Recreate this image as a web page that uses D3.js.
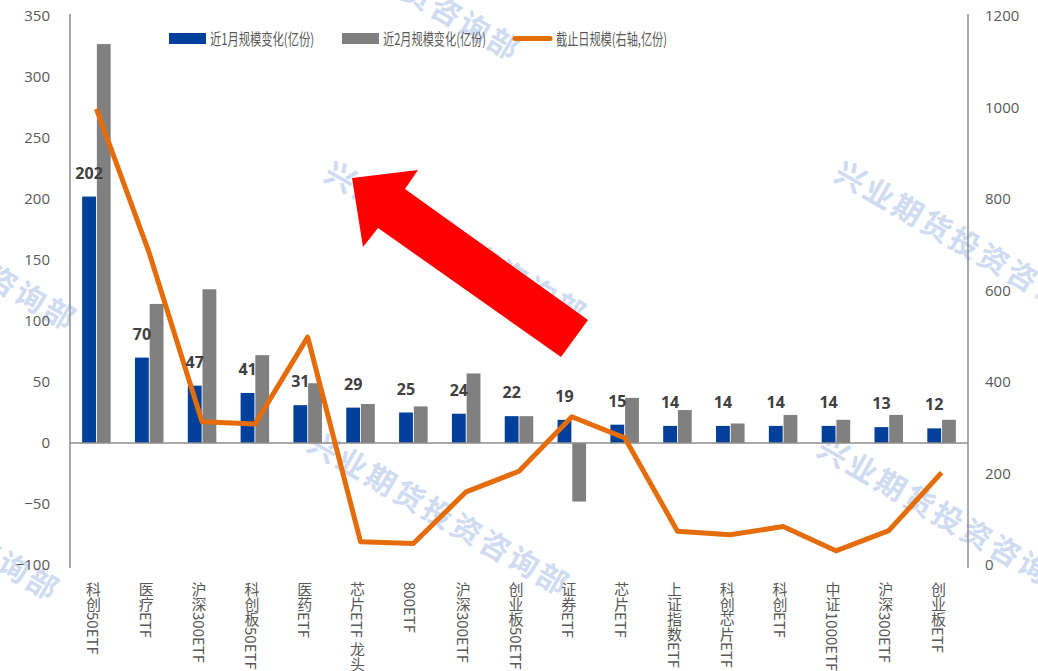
<!DOCTYPE html>
<html><head><meta charset="utf-8">
<script src="https://cdn.jsdelivr.net/npm/d3@7"></script>
<style>
html,body{margin:0;padding:0;background:#fff;}
svg{display:block;font-family:"Noto Sans CJK SC","Noto Sans",sans-serif;}
</style></head>
<body><svg id="c" width="1038" height="671"></svg>
<script>
const categories = ["科创50ETF","医疗ETF","沪深300ETF","科创板50ETF","医药ETF","芯片ETF 龙头","800ETF","沪深300ETF","创业板50ETF","证券ETF","芯片ETF","上证指数ETF","科创芯片ETF","科创ETF","中证1000ETF","沪深300ETF","创业板ETF"];
const change1m = [202,70,47,41,31,29,25,24,22,19,15,14,14,14,14,13,12];
const change2m = [327,114,126,72,49,32,30,57,22,-48,37,27,16,23,19,23,19];
const scaleRight = [997,682,313,308,498,51,47,160,205,324,278,74,66,84,31,75,202];
const leftTicks = [-100,-50,0,50,100,150,200,250,300,350];
const rightTicks = [0,200,400,600,800,1000,1200];
const legendNames = ["近1月规模变化(亿份)","近2月规模变化(亿份)","截止日规模(右轴,亿份)"];
const watermark = "兴业期货投资咨询部";

const BLUE="#00409A", GRAY="#808080", ORANGE="#E46C0A", AXIS="#8C8C8C", TXT="#595959";
const svg = d3.select("#c");
const L=70, R=968, T=16, B=565;
const idx = d3.range(categories.length);
const x = d3.scaleBand(idx,[L,R]).paddingInner(0.46).paddingOuter(0.23);
const xs = d3.scaleBand(["a","b"],[0,x.bandwidth()]).paddingInner(0.06);
const yL = d3.scaleLinear([-100,350],[B,T]);
const yR = d3.scaleLinear([0,1200],[B,T]);

// watermarks
const wm = svg.append("g");
[[-188,160],[256,-110],[322,155],[832,155],[-205,430],[305,425],[815,430]].forEach(([a,b])=>{
  wm.append("text").attr("transform",`translate(${a},${b+24}) rotate(30)`)
    .attr("font-size",30).attr("font-weight","bold").attr("fill","#CFDBF1")
    .attr("letter-spacing",3).text(watermark);
});

// bars
const g = svg.append("g");
g.selectAll(".b1").data(idx).join("rect")
  .attr("x",i=>x(i)+xs("a")).attr("width",xs.bandwidth())
  .attr("y",i=>yL(Math.max(0,change1m[i]))).attr("height",i=>Math.abs(yL(change1m[i])-yL(0)))
  .attr("fill",BLUE);
g.selectAll(".b2").data(idx).join("rect")
  .attr("x",i=>x(i)+xs("b")).attr("width",xs.bandwidth())
  .attr("y",i=>yL(Math.max(0,change2m[i]))).attr("height",i=>Math.abs(yL(change2m[i])-yL(0)))
  .attr("fill",GRAY);

// axes lines
svg.append("line").attr("x1",L).attr("x2",L).attr("y1",T-2).attr("y2",B+3).attr("stroke",AXIS).attr("stroke-width",1.5);
svg.append("line").attr("x1",R).attr("x2",R).attr("y1",T-2).attr("y2",B+3).attr("stroke",AXIS).attr("stroke-width",1.5);
svg.append("line").attr("x1",L).attr("x2",R).attr("y1",yL(0)).attr("y2",yL(0)).attr("stroke",AXIS).attr("stroke-width",1.5);

// tick labels
const axL = d3.axisLeft(yL).tickValues(leftTicks).tickSize(0).tickPadding(20).tickFormat(d3.format("d"));
const gl = svg.append("g").attr("transform",`translate(${L},0)`).call(axL);
gl.select(".domain").remove();
gl.selectAll("text").attr("font-size",15).attr("fill",TXT).attr("font-family","'Open Sans','Noto Sans',sans-serif").attr("dy","0.3em");
const axR = d3.axisRight(yR).tickValues(rightTicks).tickSize(0).tickPadding(17).tickFormat(d3.format("d"));
const gr = svg.append("g").attr("transform",`translate(${R},0)`).call(axR);
gr.select(".domain").remove();
gr.selectAll("text").attr("font-size",15).attr("fill",TXT).attr("font-family","'Open Sans','Noto Sans',sans-serif").attr("dy","0.3em");

// x labels vertical
svg.append("g").selectAll("text").data(idx).join("text")
  .attr("x",i=>x(i)+x.bandwidth()/2-3).attr("y",B+17)
  .style("writing-mode","vertical-rl").style("text-orientation","mixed")
  .attr("font-size",15).attr("fill",TXT)
  .text(i=>categories[i]);

// line
const line = d3.line().x(i=>x(i)+x.bandwidth()/2).y(i=>yR(scaleRight[i]));
svg.append("path").datum(idx).attr("d",line).attr("fill","none")
  .attr("stroke",ORANGE).attr("stroke-width",5).attr("stroke-linejoin","round");

// data labels
svg.append("g").selectAll("text").data(idx).join("text")
  .attr("x",i=>x(i)+xs("a")+xs.bandwidth()/2).attr("y",i=>yL(change1m[i])-18)
  .attr("text-anchor","middle").attr("font-size",16).attr("font-weight","bold").attr("fill","#404040")
  .attr("font-family","'Open Sans','Noto Sans',sans-serif")
  .text(i=>d3.format(".0f")(change1m[i]));

// legend
const lg = svg.append("g");
lg.append("rect").attr("x",169).attr("y",33).attr("width",37).attr("height",11).attr("fill",BLUE);
lg.append("text").attr("x",210).attr("y",45).attr("textLength",104).text(legendNames[0]);
lg.append("rect").attr("x",342).attr("y",33).attr("width",37).attr("height",11).attr("fill",GRAY);
lg.append("text").attr("x",383).attr("y",45).attr("textLength",103).text(legendNames[1]);
lg.append("line").attr("x1",515).attr("x2",550).attr("y1",38.5).attr("y2",38.5).attr("stroke",ORANGE).attr("stroke-width",5).attr("stroke-linecap","round");
lg.append("text").attr("x",556).attr("y",45).attr("textLength",111).text(legendNames[2]);
lg.selectAll("text").attr("font-size",16).attr("fill",TXT).attr("lengthAdjust","spacingAndGlyphs");

// red arrow annotation
svg.append("polygon")
  .attr("points",[[352,178],[418,170],[405,189],[588,320],[561,357],[378,228],[363,247]].map(p=>p.join(",")).join(" "))
  .attr("fill","#FF0000");
</script></body></html>
